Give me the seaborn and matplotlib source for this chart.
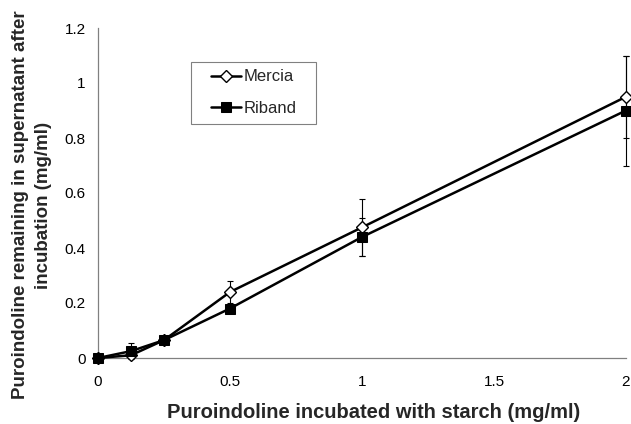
import matplotlib
matplotlib.use('Agg')
import matplotlib.pyplot as plt
from matplotlib.ticker import FuncFormatter
import seaborn as sns

# concentrations de puroindoline (mg/ml) et valeurs
conc = [0, 0.125, 0.25, 0.5, 1, 2]
mercia = [0, 0.01, 0.065, 0.24, 0.475, 0.95]
mercia_err = [0, 0.01, 0.005, 0.04, 0.105, 0.15]
riband = [0, 0.025, 0.065, 0.18, 0.44, 0.90]
riband_err = [0, 0.03, 0.005, 0.0, 0.07, 0.20]

x_ticks = [0, 0.5, 1, 1.5, 2]
y_ticks = [0, 0.2, 0.4, 0.6, 0.8, 1.0, 1.2]

sns.set_style('white')
plt.rcParams['font.family'] = ['Liberation Sans', 'DejaVu Sans']

fig = plt.figure(figsize=(6.31, 4.24), dpi=100)
ax = fig.add_axes([98 / 631, 1 - 358 / 424, 528 / 631, 330 / 424])

# barres d'erreur en dessous des marqueurs
ax.errorbar(conc, mercia, yerr=mercia_err, fmt='none', ecolor='black',
            elinewidth=0.8, capsize=2.2, capthick=0.8, zorder=2, clip_on=False)
ax.errorbar(conc, riband, yerr=riband_err, fmt='none', ecolor='black',
            elinewidth=0.8, capsize=2.2, capthick=0.8, zorder=2, clip_on=False)

sns.lineplot(x=conc, y=mercia, ax=ax, color='black', linewidth=1.8,
             marker='D', markersize=6, markerfacecolor='white',
             markeredgecolor='black', markeredgewidth=1.0,
             label='Mercia', zorder=3, clip_on=False)
sns.lineplot(x=conc, y=riband, ax=ax, color='black', linewidth=1.8,
             marker='s', markersize=6.5, markerfacecolor='black',
             markeredgecolor='black', label='Riband', zorder=4, clip_on=False)

ax.set_xlim(0, 2)
ax.set_ylim(0, 1.2)
ax.set_xticks(x_ticks)
ax.set_yticks(y_ticks)
fmt = FuncFormatter(lambda v, p: '%g' % v)
ax.xaxis.set_major_formatter(fmt)
ax.yaxis.set_major_formatter(fmt)
ax.tick_params(axis='both', length=0, labelsize=11, colors='black')
ax.tick_params(axis='x', pad=12)
ax.tick_params(axis='y', pad=9)

for side in ['top', 'right']:
    ax.spines[side].set_visible(False)
for side in ['left', 'bottom']:
    ax.spines[side].set_color('#808080')
    ax.spines[side].set_linewidth(0.9)

ax.set_xlabel('')
ax.set_ylabel('')
fig.text(374 / 631, 1 - 413 / 424, 'Puroindoline incubated with starch (mg/ml)',
         ha='center', va='center', fontsize=14.5, fontweight='bold')
fig.text(32 / 631, 1 - 205 / 424,
         'Puroindoline remaining in supernatant after\nincubation (mg/ml)',
         ha='center', va='center', rotation=90, multialignment='center',
         fontsize=13.5, fontweight='bold', linespacing=1.45)

leg = ax.legend(loc='upper left', bbox_to_anchor=(0.199, 0.897), frameon=True,
                fancybox=False, fontsize=12, handlelength=1.8,
                handletextpad=0.2, labelspacing=1.0, borderpad=0.45,
                borderaxespad=0)
frame = leg.get_frame()
frame.set_edgecolor('#606060')
frame.set_linewidth(0.8)
# marge horizontale plus large que la marge verticale
frame.set_boxstyle('square', pad=0.7)
frame.set_mutation_aspect(0.01)

plt.savefig('out.png', dpi=100)
